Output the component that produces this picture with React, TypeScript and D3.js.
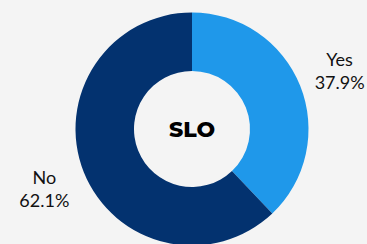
import React from "react";
import * as d3 from "d3";

const categories = ["Yes", "No"];
const values = [37.9, 62.1];
const colors = ["#1f98ea", "#03326f"];
const centerLabel = "SLO";

const W = 367;
const H = 244;

export default function App() {
  const cx = 192;
  const cy = 129;
  const outerR = 116.5;
  const innerR = 58;
  const labelR = 159;

  const data = categories.map((c, i) => ({ c, v: values[i], color: colors[i] }));
  const pie = d3.pie<any>().value((d) => d.v).sort(null);
  const arcs = pie(data);
  const arcGen = d3.arc<any>().innerRadius(innerR).outerRadius(outerR);
  const labelArc = d3.arc<any>().innerRadius(labelR).outerRadius(labelR);

  return (
    <svg
      width={W}
      height={H}
      style={{ position: "absolute", left: 0, top: 0, display: "block" }}
    >
      <rect x={0} y={0} width={W} height={H} fill="#f4f4f4" />
      <g transform={`translate(${cx},${cy})`}>
        {arcs.map((a, i) => (
          <path key={i} d={arcGen(a) as string} fill={a.data.color} />
        ))}
        {arcs.map((a, i) => {
          const [x, y] = labelArc.centroid(a);
          return (
            <text
              key={"l" + i}
              x={x}
              y={y}
              textAnchor="middle"
              fontFamily="Lato, 'Open Sans', sans-serif"
              fontSize={18}
              fill="#111"
            >
              <tspan x={x} dy={-4}>{a.data.c}</tspan>
              <tspan x={x} dy={23}>{d3.format(".1f")(a.data.v) + "%"}</tspan>
            </text>
          );
        })}
        <text
          x={0}
          y={0}
          dy={8}
          textAnchor="middle"
          fontFamily="Montserrat, Inter, 'Open Sans', sans-serif"
          fontWeight={800}
          fontSize={22}
          fill="#000"
        >
          {centerLabel}
        </text>
      </g>
    </svg>
  );
}
